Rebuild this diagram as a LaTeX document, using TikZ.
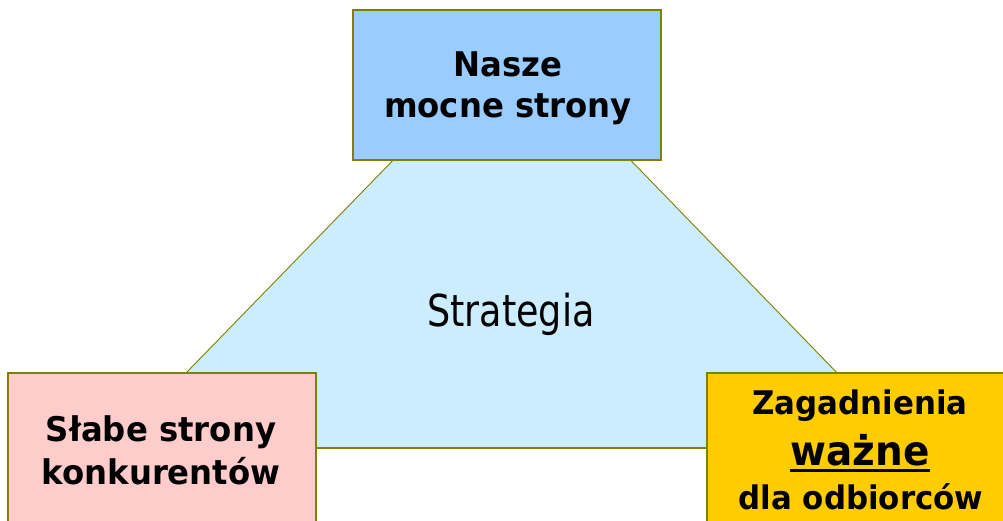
\documentclass[tikz,border=0pt]{standalone}
\usepackage{fontspec}
\newfontfamily\boxfont[FakeStretch=0.95]{DejaVu Sans}
\newfontfamily\midfont[FakeStretch=0.83]{DejaVu Sans}
\definecolor{edge}{HTML}{808000}
\definecolor{topfill}{HTML}{99CCFF}
\definecolor{leftfill}{HTML}{FFCCCC}
\definecolor{rightfill}{HTML}{FFCC00}
\definecolor{trifill}{HTML}{CCECFF}
\begin{document}
\begin{tikzpicture}[x=1pt,y=-1pt,
  box/.style={rectangle,draw=edge,line width=1.3pt,inner sep=0pt,outer sep=0pt},
  lbl/.style={anchor=base,inner sep=0pt,text=black,font=\boxfont\bfseries\fontsize{34}{40}\selectfont},
  rlbl/.style={lbl,font=\boxfont\bfseries\fontsize{32.5}{38}\selectfont},
]
\clip (0,0) rectangle (1003,520);
\fill[white] (0,0) rectangle (1003,520);

% central triangle
\coordinate (apex) at (512,38);
\coordinate (bl) at (113,448);
\coordinate (br) at (910,448);
\fill[trifill] (apex) -- (bl) -- (br) -- cycle;
\draw[edge,line width=0.9pt] (bl) -- (apex) -- (br);
\draw[edge,line width=2.6pt] (bl) -- (br);
\node[anchor=base,inner sep=0pt,font=\midfont\fontsize{44}{50}\selectfont] (strat) at (511,326) {Strategia};

% top box
\node[box,fill=topfill,minimum width=308pt,minimum height=150pt] (top) at (507,85) {};
\node[lbl] (top1) at (508,76) {Nasze};
\node[lbl] (top2) at (508,117) {mocne strony};

% left box
\node[box,fill=leftfill,minimum width=308pt,minimum height=170pt] (left) at (162,458) {};
\node[lbl] (left1) at (161,441) {Słabe strony};
\node[lbl] (left2) at (161,484) {konkurentów};

% right box
\node[box,fill=rightfill,minimum width=308pt,minimum height=170pt] (right) at (861,458) {};
\node[rlbl] (right1) at (860,414) {Zagadnienia};
\node[lbl,font=\boxfont\bfseries\fontsize{41}{46}\selectfont] (right2) at (860,465) {ważne};
\draw[black,line width=3pt] ([yshift=-5.5pt]right2.base west) -- ([yshift=-5.5pt]right2.base east);
\node[rlbl] (right3) at (861,509) {dla odbiorców};
\end{tikzpicture}
\end{document}
